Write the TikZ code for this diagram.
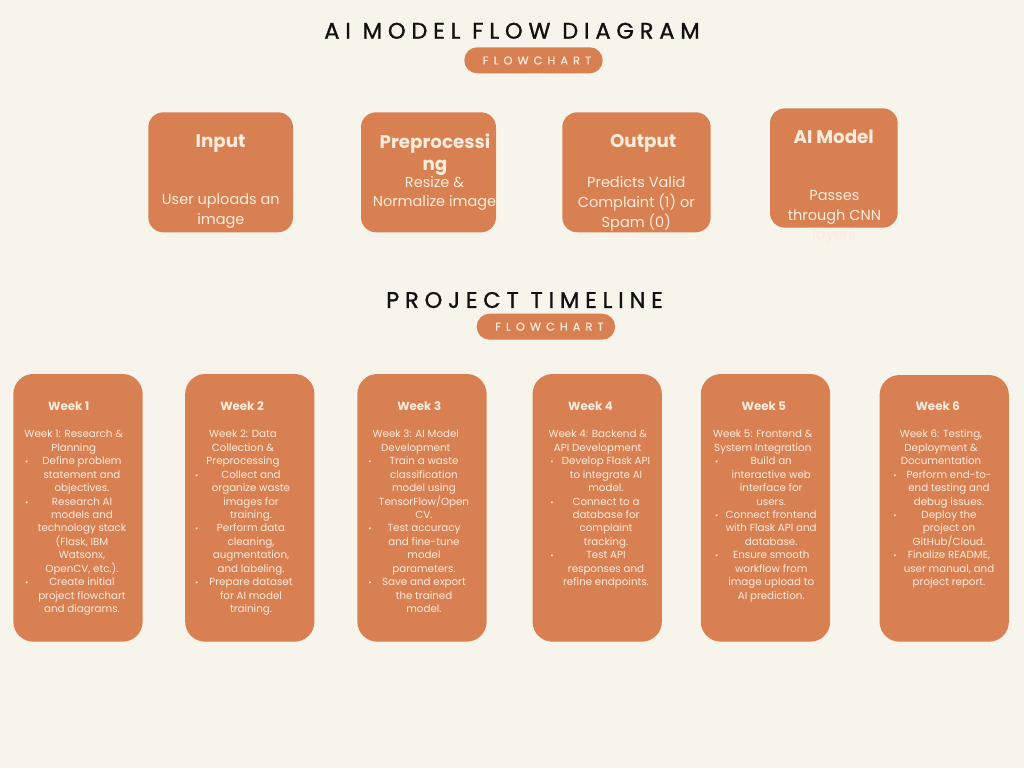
\documentclass[tikz,border=0pt]{standalone}
\usepackage{fontspec}
\setmainfont{Poppins}
\newfontfamily\titlefont{Poppins}[LetterSpace=26,FakeBold=1.2]
\newfontfamily\pillfont{Poppins}[LetterSpace=45,FakeBold=0.6]
\definecolor{bgc}{RGB}{247,244,236}
\definecolor{orng}{RGB}{217,128,82}
\definecolor{crm}{RGB}{251,236,220}
\definecolor{ink}{RGB}{17,17,17}
\tikzset{
  tbox/.style={fill=orng, rounded corners=15pt, inner sep=0pt, outer sep=0pt},
  wbox/.style={fill=orng, rounded corners=20pt, inner sep=0pt, outer sep=0pt, minimum height=267.7pt, minimum width=129.3pt},
  pill/.style={fill=orng, rounded corners=12.9pt, inner sep=0pt, minimum width=138.4pt, minimum height=26pt},
  pilltext/.style={font=\pillfont\fontsize{11.3}{12}\selectfont, text=crm, inner sep=0pt},
  titletext/.style={font=\titlefont\fontsize{22.5}{24}\selectfont, text=ink, inner sep=0pt},
  thead/.style={font=\bfseries\fontsize{18.3}{22}\selectfont, text=crm, inner sep=0pt, anchor=base},
  tbody/.style={font=\fontsize{14.5}{19}\selectfont, text=crm, inner sep=0pt, anchor=base},
  whead/.style={font=\bfseries\fontsize{11.8}{12}\selectfont, text=crm, inner sep=0pt},
  wtext/.style={font=\fontsize{10.3}{12}\selectfont, text=crm, inner sep=0pt, anchor=base},
  wbullet/.style={font=\fontsize{8}{9}\selectfont, text=crm, inner sep=0pt, anchor=base}
}
\newcommand\wlines[4]{\foreach \wl [count=\ii from #3] in {#4}{\node[wtext] (#1-\ii) at (#2,{437.8+13.45*\ii}) {\wl};}}
\newcommand\wbul[3]{\node[wbullet] (#1) at (#2,{437.8+13.45*#3}) {\textbullet};}
\begin{document}
\begin{tikzpicture}[x=1pt,y=-1pt]
\fill[bgc] (0,0) rectangle (1024,768);
\useasboundingbox (0,0) rectangle (1024,768);

% ---------- titles ----------
\node[titletext] (title1) at (512,30.8) {AI MODEL FLOW DIAGRAM};
\node[pill] (pill1) at (533.5,60.3) {};
\node[pilltext] (pill1t) at (537,60.5) {FLOWCHART};
\node[titletext] (title2) at (524.5,300) {PROJECT TIMELINE};
\node[pill] (pill2) at (545.9,326.7) {};
\node[pilltext] (pill2t) at (549.4,326.7) {FLOWCHART};

% ---------- top boxes ----------
\node[tbox, minimum width=144.7pt, minimum height=120pt] (inbox) at (220.65,172.3) {};
\node[thead] (inh) at (220.7,147) {Input};
\node[tbody] (inb1) at (220.8,204.3) {User uploads an};
\node[tbody] (inb2) at (220.8,224) {image};

\node[tbox, minimum width=135pt, minimum height=120pt] (prebox) at (428.5,172.3) {};
\node[thead] (preh1) at (435,148.3) {Preprocessi};
\node[thead] (preh2) at (435,170.3) {ng};
\node[tbody] (preb1) at (434.5,187.3) {Resize \&};
\node[tbody] (preb2) at (434.5,206.7) {Normalize image};

\node[tbox, minimum width=148.4pt, minimum height=120pt] (outbox) at (636.5,172.3) {};
\node[thead] (outh) at (643.2,147.3) {Output};
\node[tbody] (outb1) at (636.3,187.3) {Predicts Valid};
\node[tbody] (outb2) at (636.3,207.3) {Complaint (1) or};
\node[tbody] (outb3) at (636.3,227.3) {Spam (0)};

\node[tbox, minimum width=127.7pt, minimum height=119.4pt] (aibox) at (833.85,168) {};
\node[thead] (aih) at (833.7,143.3) {AI Model};
\node[tbody] (aib1) at (834.4,200.7) {Passes};
\node[tbody] (aib2) at (834.4,220) {through CNN};
\node[tbody] (aib3) at (834.4,239.3) {layers};

% ---------- week boxes ----------
% Week 1
\node[wbox] (w1) at (78,507.85) {};
\node[whead] (w1h) at (68.8,406) {Week 1};
\wlines{w1i}{73.7}{0}{Week 1: Research \&, Planning}
\wbul{w1a}{26.7}{2}
\wlines{w1ta}{82}{2}{Define problem, statement and, objectives.}
\wbul{w1b}{26.7}{5}
\wlines{w1tb}{82}{5}{Research AI, models and, technology stack, {(Flask, IBM}, {Watsonx,}, {OpenCV, etc.).}}
\wbul{w1c}{26.7}{11}
\wlines{w1tc}{82}{11}{Create initial, project flowchart, and diagrams.}

% Week 2
\node[wbox] (w2) at (249.8,507.85) {};
\node[whead] (w2h) at (242,406) {Week 2};
\wlines{w2i}{243}{0}{Week 2: Data, Collection \&, Preprocessing}
\wbul{w2a}{196.7}{3}
\wlines{w2ta}{251}{3}{Collect and, organize waste, images for, training.}
\wbul{w2b}{196.7}{7}
\wlines{w2tb}{251}{7}{Perform data, {cleaning,}, {augmentation,}, and labeling.}
\wbul{w2c}{196.7}{11}
\wlines{w2tc}{251}{11}{Prepare dataset, for AI model, training.}

% Week 3
\node[wbox] (w3) at (422,507.85) {};
\node[whead] (w3h) at (419.2,406) {Week 3};
\wlines{w3i}{415.8}{0}{Week 3: AI Model, Development}
\wbul{w3a}{370}{2}
\wlines{w3ta}{424}{2}{Train a waste, classification, model using, TensorFlow/Open, CV.}
\wbul{w3b}{370}{7}
\wlines{w3tb}{424}{7}{Test accuracy, and fine-tune, model, parameters.}
\wbul{w3c}{370}{11}
\wlines{w3tc}{424}{11}{Save and export, the trained, model.}

% Week 4
\node[wbox] (w4) at (597.2,507.85) {};
\node[whead] (w4h) at (590.5,406) {Week 4};
\wlines{w4i}{597.7}{0}{Week 4: Backend \&, API Development}
\wbul{w4a}{552}{2}
\wlines{w4ta}{606}{2}{Develop Flask API, to integrate AI, model.}
\wbul{w4b}{552}{5}
\wlines{w4tb}{606}{5}{Connect to a, database for, complaint, tracking.}
\wbul{w4c}{552}{9}
\wlines{w4tc}{606}{9}{Test API, responses and, refine endpoints.}

% Week 5
\node[wbox] (w5) at (765.5,507.85) {};
\node[whead] (w5h) at (763.8,406) {Week 5};
\wlines{w5i}{762.8}{0}{Week 5: Frontend \&, System Integration}
\wbul{w5a}{716.7}{2}
\wlines{w5ta}{771.2}{2}{Build an, interactive web, interface for, users.}
\wbul{w5b}{716.7}{6}
\wlines{w5tb}{771.2}{6}{Connect frontend, with Flask API and, database.}
\wbul{w5c}{716.7}{9}
\wlines{w5tc}{771.2}{9}{Ensure smooth, workflow from, image upload to, AI prediction.}

% Week 6
\node[wbox, minimum height=266.7pt] (w6) at (944.2,508.35) {};
\node[whead] (w6h) at (937.7,406) {Week 6};
\wlines{w6i}{941}{0}{{Week 6: Testing,}, Deployment \&, Documentation}
\wbul{w6a}{895}{3}
\wlines{w6ta}{949}{3}{Perform end-to-, end testing and, debug issues.}
\wbul{w6b}{895}{6}
\wlines{w6tb}{949}{6}{Deploy the, project on, GitHub/Cloud.}
\wbul{w6c}{895}{9}
\wlines{w6tc}{949}{9}{{Finalize README,}, {user manual, and}, project report.}
\end{tikzpicture}
\end{document}
